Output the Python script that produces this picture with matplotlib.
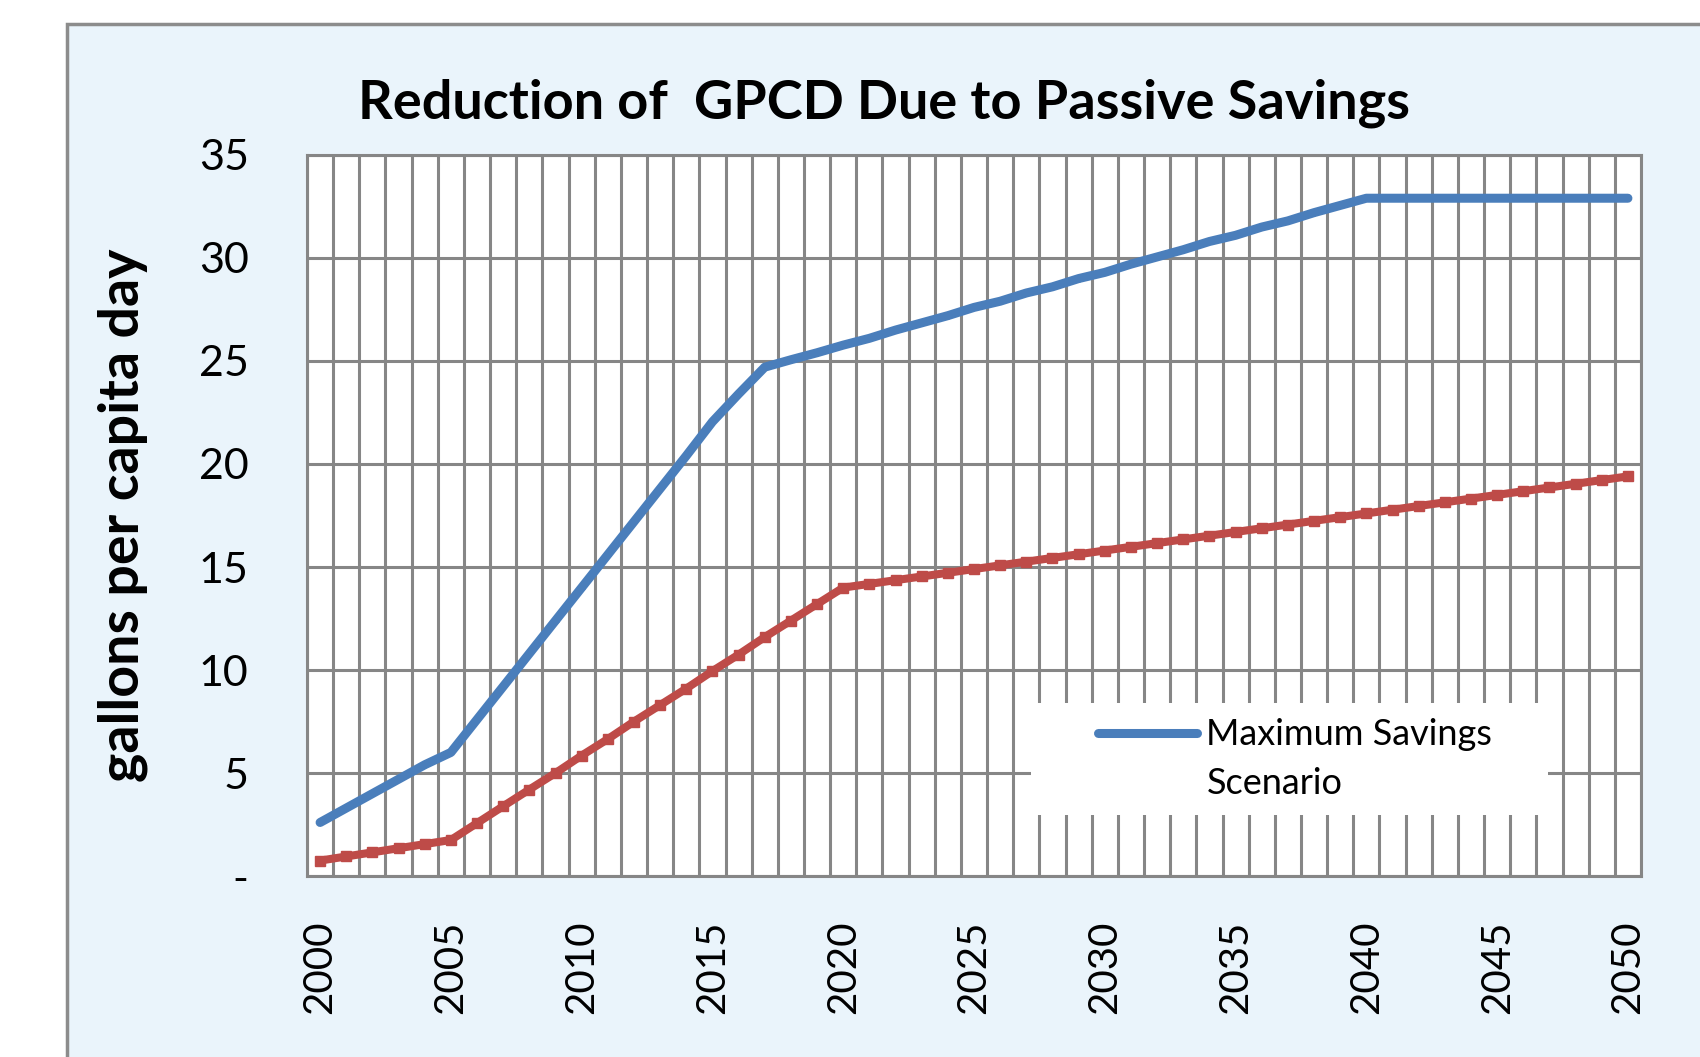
import matplotlib.pyplot as plt
from matplotlib.patches import Rectangle

plt.rcParams['font.family'] = ['Lato', 'DejaVu Sans']

years = list(range(2000, 2051))

# Maximum Savings Scenario (blue)
max_savings = [2.6, 3.3, 4.0, 4.7, 5.4, 6.0,
               7.6, 9.2, 10.8, 12.4, 14.0, 15.6, 17.2, 18.8, 20.4, 22.05,
               23.4, 24.7,
               25.06, 25.4, 25.77, 26.1, 26.5, 26.85, 27.2, 27.6, 27.9, 28.3,
               28.6, 29.0, 29.3, 29.7, 30.05, 30.4, 30.8, 31.1, 31.5, 31.8,
               32.2, 32.55, 32.9,
               32.9, 32.9, 32.9, 32.9, 32.9, 32.9, 32.9, 32.9, 32.9, 32.9]

# second series (red), no legend entry in the original
second_scenario = [0.75, 0.95, 1.15, 1.35, 1.55, 1.75,
                   2.57, 3.39, 4.2, 5.0, 5.85, 6.65, 7.5, 8.3, 9.1, 9.95,
                   10.75, 11.6, 12.4, 13.2, 14.0,
                   14.18, 14.36, 14.54, 14.72, 14.9, 15.08, 15.26, 15.44, 15.62,
                   15.8, 15.98, 16.16, 16.34, 16.52, 16.7, 16.88, 17.06, 17.24,
                   17.42, 17.6, 17.78, 17.96, 18.14, 18.32, 18.5, 18.68, 18.86,
                   19.04, 19.22, 19.4]

x_ticks = list(range(2000, 2051, 5))
y_ticks = [0, 5, 10, 15, 20, 25, 30, 35]
y_labels = ['-', '5', '10', '15', '20', '25', '30', '35']

grid_col = '#868686'
blue = '#4A7EBB'
red = '#BE4B48'

fig = plt.figure(figsize=(17, 10.57), dpi=100, facecolor='white')

# chart area frame (light blue)
fig.patches.append(Rectangle((0.0394, -0.1), 1.2, 0.977 + 0.1, transform=fig.transFigure,
                             facecolor='#EAF4FB', edgecolor='#8C8C8C', lw=2.5, zorder=-1))

ax = fig.add_axes([0.1806, 0.1712, 0.7847, 0.6822])
ax.set_facecolor('white')
ax.set_axisbelow(True)

ax.plot(years, max_savings, color=blue, lw=6.5, marker='D', markersize=3,
        solid_capstyle='round', zorder=3, label='Maximum Savings')
ax.plot(years, second_scenario, color=red, lw=5.8, marker='s', markersize=7,
        zorder=3)

ax.set_xlim(1999.5, 2050.5)
ax.set_ylim(0, 35)

ax.set_xticks(x_ticks)
ax.set_xticklabels([str(y) for y in x_ticks], rotation=90, fontsize=29)
ax.set_xticks([1999.5 + k for k in range(52)], minor=True)
ax.set_yticks(y_ticks)
ax.set_yticklabels(y_labels, fontsize=31)

ax.tick_params(axis='x', which='both', length=0, pad=32)
ax.tick_params(axis='y', length=0, pad=42)

ax.grid(True, axis='y', which='major', color=grid_col, lw=2.2)
ax.grid(True, axis='x', which='minor', color=grid_col, lw=2.2)
ax.grid(False, axis='x', which='major')
for s in ax.spines.values():
    s.set_color(grid_col)
    s.set_linewidth(2.2)

# legend box (white, covers grid)
ax.add_patch(Rectangle((0.543, 0.085), 0.387, 0.155, transform=ax.transAxes,
                       facecolor='white', edgecolor='none', zorder=1))
ax.legend(loc='center left', bbox_to_anchor=(0.593, 0.1956), frameon=False,
          fontsize=26, handlelength=2.75, handletextpad=0.25, borderpad=0,
          borderaxespad=0)
ax.text(0.6747, 0.129, 'Scenario', transform=ax.transAxes, fontsize=26,
        va='center', ha='left', zorder=4)

fig.text(0.52, 0.9026, 'Reduction of  GPCD Due to Passive Savings', fontsize=39,
         fontweight='bold', ha='center', va='center')
fig.text(0.072, 0.5128, 'gallons per capita day', fontsize=40, fontweight='bold',
         rotation=90, ha='center', va='center')

fig.savefig('out.png', dpi=100)
